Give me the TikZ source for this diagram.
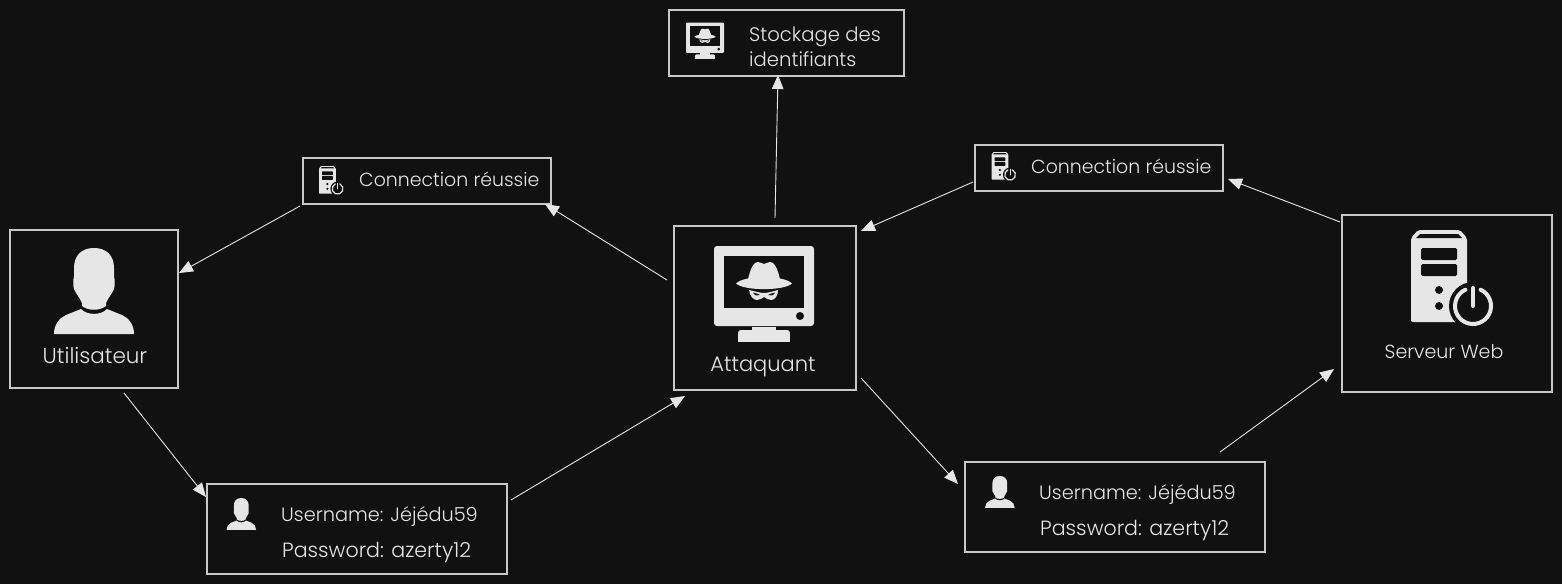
\documentclass[tikz,border=0pt]{standalone}
\usepackage{fontspec}
\setmainfont{Poppins}[UprightFont=* Light]
\usetikzlibrary{arrows.meta,calc}
\definecolor{bgc}{HTML}{111111}
\definecolor{ink}{HTML}{E6E6E6}
\definecolor{edgec}{HTML}{C8C8C8}
\tikzset{
  box/.style={draw=edgec,line width=1.6pt,fill=bgc,inner sep=0pt,outer sep=0pt,anchor=north west},
  txt/.style={text=ink,inner sep=0pt,font=\fontsize{#1}{#1}\selectfont},
  txt/.default=19,
  link/.style={draw=ink,line width=.9pt,-{Triangle[length=14pt,width=11.5pt]}},
  pics/userpic/.style={code={
    \begin{scope}[scale=#1]
    \fill[ink] (40,0) .. controls (53,0) and (60,8) .. (60,20) -- (60,28) .. controls (61,33) and (61,37) .. (60,41) .. controls (58,46) and (54,50) .. (52,55) -- (52,58) .. controls (46,63) and (34,63) .. (28,58) -- (28,55) .. controls (26,50) and (22,46) .. (20,41) .. controls (19,37) and (19,33) .. (20,28) -- (20,20) .. controls (20,8) and (27,0) .. (40,0) -- cycle;
    \fill[ink] (27,61) .. controls (33,67.5) and (47,67.5) .. (53,61) -- (68,67) .. controls (75,70) and (80,77) .. (80,86) -- (0,86) .. controls (0,77) and (5,70) .. (12,67) -- cycle;
    \end{scope}}},
  pics/hackerpic/.style={code={
    \begin{scope}[scale=#1]
    \fill[ink,rounded corners=#1*3pt] (0,0) rectangle (100,80);
    \fill[bgc] (10,10) rectangle (90,62);
    \fill[bgc] (86,70) circle[radius=4];
    \fill[ink] (38,81) rectangle (62,85);
    \fill[ink,rounded corners=#1*3pt] (24,90) -- (24,84) -- (76,84) -- (76,90) -- cycle;
    \fill[ink] (24,88) rectangle (76,96);
    \fill[ink] (22,37.5) .. controls (30,29) and (70,29) .. (78,37.5) .. controls (70,45) and (30,45) .. (22,37.5) -- cycle;
    \fill[ink] (33,38) .. controls (35,28) and (38,16) .. (44,16) .. controls (47,16) and (48,18) .. (50,18) .. controls (52,18) and (53,16) .. (56,16) .. controls (62,16) and (65,28) .. (67,38) -- cycle;
    \fill[ink] (35,44) .. controls (40,45) and (46,47) .. (50,47) .. controls (54,47) and (60,45) .. (64,44) .. controls (64,50) and (61,54) .. (57,54) .. controls (54,54) and (52,52) .. (50,51) .. controls (48,52) and (46,54) .. (43,54) .. controls (39,54) and (36,50) .. (35,44) -- cycle;
    \fill[bgc] (39,46.5) .. controls (42,47) and (44,48) .. (46,49) .. controls (43,50) and (41,50) .. (39,46.5) -- cycle;
    \fill[bgc] (61,46.5) .. controls (58,47) and (56,48) .. (54,49) .. controls (57,50) and (59,50) .. (61,46.5) -- cycle;
    \end{scope}}},
  pics/serverpic/.style={code={
    \begin{scope}[scale=#1]
    \fill[ink,rounded corners=#1*2pt] (0,92) -- (0,8) -- (7,0) -- (49,0) -- (56,8) -- (56,92) -- cycle;
    \fill[bgc] (9,4) -- (47,4) -- (51,8) -- (5,8) -- cycle;
    \fill[bgc,rounded corners=#1*1.5pt] (10,18) rectangle (46,30);
    \fill[bgc,rounded corners=#1*1.5pt] (10,34) rectangle (46,46);
    \fill[bgc] (28,60) circle[radius=4];
    \fill[bgc] (28,76) circle[radius=4];
    \fill[bgc] (62,76) circle[radius=24];
    \draw[ink,line width=#1*4pt,line cap=round] (62,76) ++(-65:18) arc[start angle=-65,end angle=245,radius=18];
    \draw[ink,line width=#1*4pt,line cap=round] (62,58) -- (62,76);
    \end{scope}}},
}
\begin{document}
\begin{tikzpicture}[x=1pt,y=-1pt]
\fill[bgc] (0,0) rectangle (1562,584);
\useasboundingbox (0,0) rectangle (1562,584);
% boxes
\node[box,minimum width=168pt,minimum height=158pt] (user) at (10,230) {};
\node[box,minimum width=300pt,minimum height=90pt] (cred1) at (207,484) {};
\node[box,minimum width=182pt,minimum height=164pt] (attacker) at (674,226) {};
\node[box,minimum width=248pt,minimum height=46pt] (conn1) at (303,158) {};
\node[box,minimum width=235pt,minimum height=66pt] (store) at (669,10) {};
\node[box,minimum width=248pt,minimum height=46pt] (conn2) at (975,145) {};
\node[box,minimum width=300pt,minimum height=90pt] (cred2) at (965,462) {};
\node[box,minimum width=210pt,minimum height=177pt] (server) at (1342,215) {};
% icons
\pic at (54,248) {userpic=1};
\pic at (714,246) {hackerpic=1};
\pic at (1411,230) {serverpic=1};
\pic at (686,22.5) {hackerpic=.38};
\pic at (226.5,498) {userpic=.37};
\pic at (985,476) {userpic=.37};
\pic at (319,166) {serverpic=.3};
\pic at (991.5,152) {serverpic=.3};
% labels
\node[txt=21.5] (userlab) at (95,356) {Utilisateur};
\node[txt=21] (attlab) at (763,367) {Attaquant};
\node[txt=19] (servlab) at (1444,352) {Serveur Web};
\node[txt=18.9,anchor=west] (c1lab) at (359,179) {Connection réussie};
\node[txt=18.9,anchor=west] (c2lab) at (1031,166) {Connection réussie};
\node[txt=19.6,anchor=west] (s1lab) at (749,36.5) {Stockage des};
\node[txt=19.6,anchor=west] (s2lab) at (749,59) {identifiants};
\node[txt=19.3,anchor=west] (u1lab) at (281,517) {Username: Jéjédu59};
\node[txt=20.6,anchor=west] (p1lab) at (282,553) {Password: azerty12};
\node[txt=19.3,anchor=west] (u2lab) at (1039,495) {Username: Jéjédu59};
\node[txt=20.6,anchor=west] (p2lab) at (1040,531) {Password: azerty12};
% connectors (anchored on boxes, offset in px)
\draw[link] ($(user.south west)+(114,5)$) -- ($(cred1.north west)+(-1,13)$);
\draw[link] ($(cred1.north east)+(4,16)$) -- ($(attacker.south west)+(11,6)$);
\draw[link] ($(attacker.north west)+(-7,54)$) -- ($(conn1.south east)+(-6,0)$);
\draw[link] ($(conn1.south west)+(-3,2)$) -- ($(user.north east)+(1,43)$);
\draw[link] ($(attacker.north)+(10,-8)$) -- ($(store.south)+(-8.5,-1)$);
\draw[link] ($(attacker.south east)+(5,-12)$) -- ($(cred2.north west)+(-7,22)$);
\draw[link] ($(cred2.north east)+(-45,-10)$) -- ($(server.south west)+(-8,-23)$);
\draw[link] ($(server.north west)+(-2,7)$) -- ($(conn2.north east)+(5,34)$);
\draw[link] ($(conn2.north west)+(-2,37)$) -- ($(attacker.north east)+(5,5)$);
\end{tikzpicture}
\end{document}
